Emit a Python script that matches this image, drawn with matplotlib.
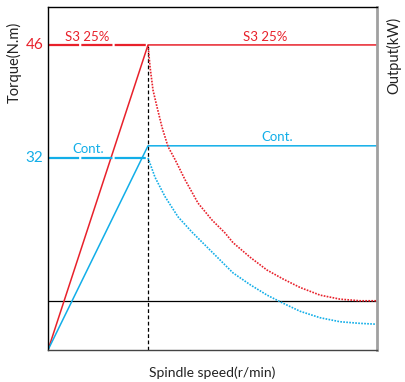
import matplotlib
matplotlib.use("Agg")
import matplotlib.pyplot as plt
from matplotlib import font_manager

names = {f.name for f in font_manager.fontManager.ttflist}
FONT = "Liberation Sans Narrow" if "Liberation Sans Narrow" in names else ("Lato" if "Lato" in names else "DejaVu Sans")
plt.rcParams['font.family'] = [FONT, 'DejaVu Sans']

RED = "#e8212b"
BLUE = "#12aee8"

# Data (speed in r/min, arbitrary scale; torque in N.m)
base_speed = 3040
max_speed = 10000
y_min, y_max = 8.2, 50.7
torque_s3 = 46
torque_cont = 32
power_s3_level = 46
power_cont_level = 33.5
ref_line = 14.3

s3_speed = [3040, 3101, 3192, 3314, 3466, 3648, 3861, 4165, 4560, 4986, 5381, 5624,
            6141, 6658, 7144, 7661, 8269, 8877, 9485, 9971]
s3_torque = [46.0, 43.3, 40.4, 38.3, 35.8, 33.4, 31.8, 29.3, 26.4, 24.3, 22.7, 21.5,
             19.7, 18.1, 17.0, 15.95, 15.0, 14.5, 14.3, 14.3]
cont_speed = [3040, 3253, 3557, 3952, 4378, 4773, 5168, 5624, 6141, 6658, 7144, 7661,
              8269, 8877, 9485, 9971]
cont_torque = [32.0, 29.6, 27.2, 24.7, 22.8, 21.2, 19.6, 17.75, 16.3, 15.0, 14.0, 13.0,
               12.2, 11.7, 11.5, 11.4]

fig = plt.figure(figsize=(4.06, 3.82), dpi=100)
ax = fig.add_axes([48/406, 1-350/382, 329/406, 343/382])
ax.set_xlim(0, max_speed)
ax.set_ylim(y_min, y_max)

# reference horizontal line
ax.plot([0, max_speed], [ref_line, ref_line], color="black", lw=0.9)
# base speed vertical dashed
ax.plot([base_speed, base_speed], [y_min, torque_s3], color="black", lw=0.9, ls=(0, (3, 2)))

# power lines (solid)
ax.plot([0, base_speed, max_speed], [y_min, power_s3_level, power_s3_level], color=RED, lw=1.1)
ax.plot([0, base_speed, max_speed], [y_min, power_cont_level, power_cont_level], color=BLUE, lw=1.1)

# torque constant (thick dashed)
ax.plot([0, base_speed], [torque_s3, torque_s3], color=RED, lw=1.6, ls=(0, (14, 1)))
ax.plot([0, base_speed], [torque_cont, torque_cont], color=BLUE, lw=1.6, ls=(0, (14, 1)))

# torque decay (dotted)
ax.plot(s3_speed, s3_torque, color=RED, lw=1.2, ls=(0, (1, 0.8)), solid_joinstyle="round")
ax.plot(cont_speed, cont_torque, color=BLUE, lw=1.2, ls=(0, (1, 0.8)), solid_joinstyle="round")

ax.set_xticks([])
ax.set_yticks([])
for s in ["left", "top"]:
    ax.spines[s].set_color("black")
    ax.spines[s].set_linewidth(1.0)
ax.spines["bottom"].set_color("#444444")
ax.spines["bottom"].set_linewidth(1.0)
ax.spines["right"].set_color("#a0a0a0")
ax.spines["right"].set_linewidth(2.0)

# tick labels
ax.text(-0.015, torque_s3, "46", transform=ax.get_yaxis_transform(), ha="right", va="center", color=RED, fontsize=11)
ax.text(-0.015, torque_cont, "32", transform=ax.get_yaxis_transform(), ha="right", va="center", color=BLUE, fontsize=11)

# curve labels
ax.text(1190, torque_s3 + 0.3, "S3 25%", color=RED, fontsize=9.5, ha="center", va="bottom")
ax.text(6600, torque_s3 + 0.3, "S3 25%", color=RED, fontsize=9.5, ha="center", va="bottom")
ax.text(1216, torque_cont + 0.3, "Cont.", color=BLUE, fontsize=9.5, ha="center", va="bottom")
ax.text(6960, power_cont_level + 0.3, "Cont.", color=BLUE, fontsize=9.5, ha="center", va="bottom")

# axis titles
fig.text(14/406, 1-62/382, "Torque(N.m)", rotation=90, ha="center", va="center", fontsize=10.5, color="#222222")
fig.text(394/406, 1-55/382, "Output(kW)", rotation=90, ha="center", va="center", fontsize=10.5, color="#222222")
fig.text(212/406, 1-373/382, "Spindle speed(r/min)", ha="center", va="center", fontsize=10, color="#222222")

fig.savefig("out.png", dpi=100)
